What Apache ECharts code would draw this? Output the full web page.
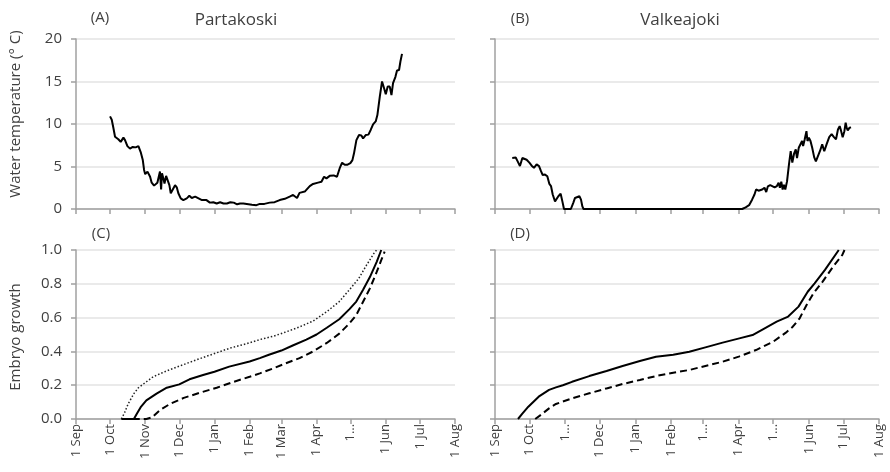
<!DOCTYPE html>
<html>
<head>
<meta charset="utf-8">
<script src="https://cdn.jsdelivr.net/npm/echarts@6/dist/echarts.min.js"></script>
<style>
html,body{margin:0;padding:0;background:#fff;}
#chart{width:890px;height:472px;}
</style>
</head>
<body>
<div id="chart"></div>
<script>
// x values are days since 1 Sep
const monthStarts = [0,30,61,91,122,153,181,212,242,273,303,334];
const monthLabelsLeft = ['1 Sep','1 Oct','1 Nov','1 Dec','1 Jan','1 Feb','1 Mar','1 Apr','1\u2026','1 Jun','1 Jul','1 Aug'];
const monthLabelsRight = ['1 Sep','1 Oct','1\u2026','1 Dec','1 Jan','1 Feb','1\u2026','1 Apr','1\u2026','1 Jun','1 Jul','1 Aug'];
const tempTicks = [0,5,10,15,20];
const growthTicks = [0,0.2,0.4,0.6,0.8,1.0];

// (A) Partakoski water temperature
const tempPartakoski = [
[30,10.9],[31.5,10.5],[33,9.5],[34.4,8.5],[37.3,8.2],[39.4,7.9],[41.8,8.4],[43.2,8.1],[45.3,7.4],[47.6,7.1],
[50,7.3],[52.6,7.25],[55,7.4],[57,6.7],[58.8,5.8],[60,4.6],[61,4.1],[63,4.4],[64,4.5],[65.3,3.8],
[66.7,3.1],[68.8,2.75],[70.5,2.9],[71.7,3.1],[72.9,3.0],[74,4.4],[75,2.3],[75.8,4.2],[77,3.6],[78,3.0],
[79.4,3.9],[80.8,3.8],[82.3,2.8],[83.5,1.85],[85.2,1.75],[87.3,2.8],[88.8,2.55],[90.2,1.85],[92.3,1.25],[94.6,1.05],
[97.6,1.25],[99.9,1.55],[102,1.3],[105,1.45],[108,1.25],[111,1.05],[115,1.05],[118,0.75],[121,0.8],[124,0.65],
[127,0.8],[130,0.65],[133,0.65],[136,0.8],[139,0.75],[142,0.55],[144.6,0.65],[147.5,0.65],[150.5,0.6],[155,0.5],
[159,0.45],[162,0.6],[166,0.6],[170.7,0.75],[175,0.8],[179.5,1.05],[184,1.2],[188.3,1.45],[191.3,1.65],[194.8,1.3],
[197,1.9],[201.6,2.05],[206,2.7],[208.9,2.95],[213.3,3.1],[216.3,3.2],[218.6,3.8],[220.7,3.6],[223.6,3.9],[227.1,3.95],
[230,3.8],[232.4,4.8],[234.5,5.45],[236.8,5.2],[238.9,5.2],[241.8,5.4],[243.6,5.75],[245,6.55],[247.1,8.1],[249.4,8.7],
[251.5,8.65],[253,8.3],[255.3,8.7],[257.7,8.75],[259.7,9.3],[261.8,9.95],[264.1,10.3],[265.6,11.05],[267.7,13.2],[269.7,15.0],
[271.5,14.2],[273,13.5],[274.7,14.4],[276.5,14.4],[278,13.4],[279.4,14.8],[281.5,15.55],[282.9,16.3],[284.7,16.35],[285.9,17.35],
[287.3,18.25]
];

// (B) Valkeajoki water temperature
const tempValkeajoki = [
[15,6.0],[16.5,5.8],[18,6.05],[19.7,5.6],[21.7,5.05],[23.8,6.0],[25.5,6.2],[27.5,5.8],[29.9,5.45],[31.9,5.1],
[33.9,4.85],[36.2,5.25],[38.3,5.05],[40,4.45],[41.5,4.0],[43.5,4.05],[45.5,3.85],[47.3,2.95],[48.7,2.7],[50.2,1.7],
[52.2,0.9],[53.6,1.1],[55.1,1.5],[57.1,1.8],[58.6,0.9],[60,0],[66,0],[67,0.1],[68,0.7],[69.6,1.3],
[71,1.5],[73.4,1.5],[74.8,1.1],[76,0.3],[77,0],[215,0],[218,0.2],[221,0.45],[223.6,1.1],[225.7,1.7],
[227.1,2.3],[229.2,2.15],[230.9,2.1],[232.4,2.3],[234.4,2.5],[235.9,2.0],[237.3,2.65],[239.4,2.8],[241.1,2.7],[243.2,2.55],
[245.2,2.7],[246.7,3.1],[247.8,2.5],[249,3.2],[250.2,2.3],[251.3,2.85],[252.5,2.3],[254,3.25],[255.7,5.25],[257.2,6.8],
[258.6,5.45],[260.1,6.5],[261.6,7.0],[262.7,6.0],[264.2,7.2],[265.6,7.4],[267.1,8.0],[268,7.4],[269.4,8.2],[270.9,9.15],
[271.8,8.0],[273,8.4],[274.4,8.0],[275.9,7.2],[277.6,6.1],[279.1,5.6],[280.8,5.8],[282.6,6.8],[284.6,7.6],[286.4,6.8],
[288.4,7.6],[290.7,8.45],[292.8,8.8],[294.8,8.45],[296.6,8.2],[298.3,9.35],[299.8,9.75],[300.9,9.25],[302.4,8.45],[303.9,9.15],
[305,10.15],[305.9,9.55],[306.8,9.25],[308.3,9.55],[309.7,9.6]
];

// (C) Partakoski embryo growth
const growthC_solid = [[40,0],[51,0],[54,0.035],[57,0.07],[62,0.11],[71,0.15],[80,0.185],[91,0.205],[100,0.235],[112,0.26],
[122,0.28],[135,0.31],[153,0.34],[162,0.36],[170,0.38],[181,0.405],[191,0.435],[203,0.47],[212,0.5],[221,0.54],
[232,0.59],[241,0.65],[247,0.695],[253,0.765],[259,0.84],[265,0.93],[269,1.0]];
const growthC_dotted = [[40,0],[41,0.01],[43,0.04],[46,0.09],[51,0.15],[55,0.185],[60,0.21],[68,0.25],[80,0.285],[92,0.315],
[106,0.35],[121,0.385],[136,0.42],[150,0.445],[162,0.47],[174,0.49],[185,0.515],[197,0.545],[209,0.58],[221,0.635],
[232,0.695],[241,0.765],[249,0.83],[256,0.91],[263,0.985],[265,1.0]];
const growthC_dashed = [[50,0],[62,0],[67,0.01],[74,0.053],[83,0.09],[95,0.125],[109,0.155],[124,0.185],[139,0.22],[153,0.25],
[162,0.27],[174,0.3],[185,0.33],[197,0.36],[209,0.4],[221,0.45],[232,0.505],[241,0.566],[247,0.615],[253,0.694],
[259,0.773],[265,0.87],[269,0.94],[272,0.99]];

// (D) Valkeajoki embryo growth
const growthD_solid = [[20,0],[23.6,0.03],[29,0.073],[38,0.132],[47,0.172],[53,0.187],[59,0.2],[67,0.22],[82,0.254],[97,0.284],
[111,0.314],[126,0.343],[140,0.368],[155,0.38],[169,0.398],[183,0.424],[198,0.452],[212.5,0.477],[224,0.497],[233,0.531],
[245,0.576],[255,0.606],[264,0.665],[272,0.753],[278,0.803],[287,0.882],[299,1.0]];
const growthD_dashed = [[35,0],[41,0.03],[47,0.063],[53,0.089],[67,0.122],[82,0.152],[97,0.181],[111,0.207],[126,0.231],[140,0.254],
[155,0.274],[169,0.29],[183,0.314],[198,0.339],[212,0.369],[227,0.408],[242,0.458],[253,0.511],[259,0.546],[265,0.596],
[271,0.675],[277,0.744],[285,0.813],[294,0.901],[302,0.97],[304,1.0]];

const FONT = 'Open Sans';
const TXT = '#404040';
const AXC = '#a0a0a0';

function xAxisCfg(gridIndex, labels) {
  return {
    type: 'value', gridIndex: gridIndex, min: 0, max: 334,
    splitLine: {show: false},
    axisLine: {show: true, lineStyle: {color: AXC, width: 1.5}},
    axisTick: {show: true, customValues: monthStarts, length: 5, lineStyle: {color: AXC, width: 1.5}},
    axisLabel: {
      show: !!labels, customValues: monthStarts, rotate: 90, margin: 5,
      fontFamily: FONT, fontSize: 13, color: TXT, showMinLabel: true, showMaxLabel: true,
      formatter: function (v) { const i = monthStarts.indexOf(Math.round(v)); return labels && i >= 0 ? labels[i] : ''; }
    }
  };
}
function yAxisCfg(gridIndex, ticks, showLabels, decimals) {
  return {
    type: 'value', gridIndex: gridIndex, min: ticks[0], max: ticks[ticks.length - 1],
    interval: ticks[1] - ticks[0],
    splitLine: {show: true, lineStyle: {color: '#e3e3e3', width: 1.5}},
    axisLine: {show: true, lineStyle: {color: AXC, width: 1.5}},
    axisTick: {show: true, length: 5, lineStyle: {color: AXC, width: 1.5}},
    axisLabel: {
      show: showLabels, margin: 14, fontFamily: FONT, fontSize: 15, color: TXT,
      formatter: function (v) { return v.toFixed(decimals); }
    }
  };
}
function lineSeries(idx, data, type, width, color) {
  return {
    type: 'line', xAxisIndex: idx, yAxisIndex: idx, data: data,
    showSymbol: false, symbol: 'none', smooth: false, animation: false,
    lineStyle: {color: color || '#000', width: width, type: type}
  };
}
function txt(text, x, y, size, rot) {
  return {
    type: 'text', x: x, y: y, rotation: rot || 0,
    style: {text: text, fontFamily: FONT, fontSize: size, fill: TXT, textAlign: 'center', textVerticalAlign: 'middle'}
  };
}

const chart = echarts.init(document.getElementById('chart'), null, {renderer: 'canvas'});
chart.setOption({
  animation: false,
  backgroundColor: '#fff',
  grid: [
    {left: 76, top: 39, width: 379, height: 170, outerBoundsMode: 'none'},
    {left: 495, top: 39, width: 384, height: 170, outerBoundsMode: 'none'},
    {left: 76, top: 250, width: 379, height: 169, outerBoundsMode: 'none'},
    {left: 495, top: 250, width: 384, height: 169, outerBoundsMode: 'none'}
  ],
  xAxis: [xAxisCfg(0, null), xAxisCfg(1, null), xAxisCfg(2, monthLabelsLeft), xAxisCfg(3, monthLabelsRight)],
  yAxis: [yAxisCfg(0, tempTicks, true, 0), yAxisCfg(1, tempTicks, false, 0),
          yAxisCfg(2, growthTicks, true, 1), yAxisCfg(3, growthTicks, false, 1)],
  series: [
    lineSeries(0, tempPartakoski, 'solid', 2),
    lineSeries(1, tempValkeajoki, 'solid', 2),
    lineSeries(2, growthC_dotted, [1.5, 2], 1.5, '#222'),
    lineSeries(2, growthC_solid, 'solid', 2),
    lineSeries(2, growthC_dashed, [7, 4], 2),
    lineSeries(3, growthD_solid, 'solid', 2),
    lineSeries(3, growthD_dashed, [7, 4], 2)
  ],
  graphic: [
    txt('(A)', 100, 18, 15),
    txt('Partakoski', 236, 20, 17),
    txt('(B)', 520, 19, 15),
    txt('Valkeajoki', 680, 20, 17),
    txt('(C)', 101, 234, 15),
    txt('(D)', 520, 234, 15),
    txt('Water temperature (\u00b0 C)', 16, 114, 15, Math.PI / 2),
    txt('Embryo growth', 16, 337, 15, Math.PI / 2)
  ]
});
</script>
</body>
</html>
